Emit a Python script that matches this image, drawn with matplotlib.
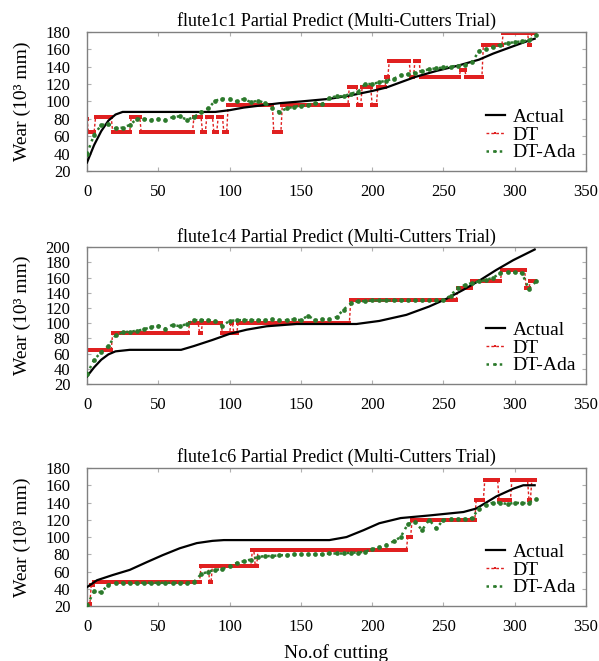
import numpy as np
import matplotlib
matplotlib.use('Agg')
import matplotlib.pyplot as plt

plt.rcParams['font.family'] = ['Liberation Serif', 'DejaVu Serif']

titles = ['flute1c1 Partial Predict (Multi-Cutters Trial)',
          'flute1c4 Partial Predict (Multi-Cutters Trial)',
          'flute1c6 Partial Predict (Multi-Cutters Trial)']
ylims = [(20, 180), (20, 200), (20, 180)]
n_cut = 315

# actual wear (knots)
act1_x = [0, 5, 10, 15, 20, 25, 30, 60, 90, 100, 110, 120, 135, 150, 170, 185, 200, 210, 220, 230, 245, 260, 275, 285, 295, 305, 314]
act1_y = [30, 50, 66, 78, 85, 88, 88, 88, 88, 90, 93, 95, 98, 100, 103, 107, 112, 116, 122, 128, 135, 141, 148, 155, 161, 167, 172]
act2_x = [0, 5, 10, 15, 20, 30, 66, 75, 88, 100, 112, 126, 147, 189, 205, 224, 240, 252, 264, 276, 287, 299, 314]
act2_y = [30, 42, 52, 59, 63, 65, 65, 70, 78, 86, 91.5, 96, 99, 99, 103, 111, 122, 132, 144, 157, 170, 183, 197]
act3_x = [0, 7, 18, 30, 42, 53, 65, 77, 88, 96, 170, 182, 194, 205, 220, 240, 264, 273, 287, 299, 306, 314]
act3_y = [42, 50, 56, 62, 71, 79, 87, 93, 95.6, 96.5, 96.5, 100, 108, 116, 122, 125, 129, 133, 147, 156, 160, 160]

# DT prediction: (value, number of cuts) runs
dt1_runs = [(80, 1), (65, 5), (82, 12), (65, 13), (82, 7), (65, 37), (82, 6), (65, 3), (82, 5), (65, 3),
            (82, 4), (65, 3), (96, 32), (65, 6), (96, 47), (117, 6), (96, 3), (117, 7), (96, 4), (117, 6),
            (128, 2), (146, 15), (128, 3), (146, 4), (128, 28), (136, 4), (128, 12), (165, 14), (179, 18),
            (165, 2), (179, 3)]
dt2_runs = [(65, 18), (87, 54), (100, 7), (87, 2), (100, 14), (87, 6), (100, 2), (87, 3), (100, 79),
            (130, 75), (146, 10), (156, 21), (170, 17), (146, 3), (156, 4)]
dt3_runs = [(22, 3), (45, 2), (48, 75), (67, 6), (48, 2), (67, 28), (85, 2), (67, 2), (85, 105),
            (100, 3), (120, 45), (143, 6), (166, 10), (143, 9), (166, 12), (143, 2), (166, 3)]

# DT-Ada prediction, every 5 cuts
ada_x = list(range(0, 316, 5))
ada1 = [40, 62, 73, 74, 69, 70, 73, 80, 80, 79, 80, 79, 82, 83, 79, 82, 88, 92, 101, 103,
        103, 100, 103, 99, 101, 98, 92, 88, 92, 94, 95, 96, 98, 97, 104, 106, 106, 109, 111, 120,
        120, 122, 124, 126, 130, 131, 133, 135, 137, 138, 139, 140, 141, 142, 145, 158, 160, 163, 165, 167,
        168, 169, 170, 176]
ada2 = [33, 52, 62, 70, 84, 88, 89, 90, 92, 95, 97, 93, 98, 96, 99, 104, 104, 104, 103, 97,
        103, 104, 104, 104, 104, 104, 105, 104, 104, 105, 104, 110, 104, 105, 105, 108, 118, 126, 129, 129,
        130, 130, 130, 130, 130, 130, 130, 130, 130, 130, 131, 136, 147, 150, 153, 155, 157, 160, 166, 167,
        167, 166, 145, 155]
ada3 = [21, 37, 36, 45, 47, 47, 47, 47, 47, 47, 47, 47, 47, 47, 47, 48, 57, 60, 62, 63,
        66, 70, 72, 74, 77, 78, 78, 79, 79, 80, 80, 80, 80, 80, 81, 81, 81, 82, 82, 83,
        86, 88, 91, 95, 100, 115, 118, 108, 120, 110, 120, 121, 121, 121, 122, 133, 137, 140, 140, 138,
        140, 139, 140, 144]

actuals = [(act1_x, act1_y), (act2_x, act2_y), (act3_x, act3_y)]
dts = [dt1_runs, dt2_runs, dt3_runs]
adas = [ada1, ada2, ada3]

fig = plt.figure(figsize=(5.99, 6.61), dpi=100)
boxes = [(0.741, 0.952), (0.419, 0.626), (0.083, 0.292)]
left, right = 87 / 599, 586 / 599

for i in range(3):
    bot, top = boxes[i]
    ax = fig.add_axes([left, bot, right - left, top - bot])
    ax_x, ax_y = actuals[i]
    ax.plot(ax_x, ax_y, color='black', lw=1.6, label='Actual', zorder=3)
    vals = [v for v, k in dts[i]]
    lens = [k for v, k in dts[i]]
    dt = np.repeat(vals, lens)
    ax.plot(np.arange(n_cut), dt, color='#e02020', ls=(0, (2, 1.5)), lw=1.0,
            marker='s', ms=2.6, mew=0, label='DT', zorder=2)
    ax.plot(ada_x, adas[i], color='#2c7a2c', ls=':', lw=1.8,
            marker='o', ms=3.4, mew=0, label='DT-Ada', zorder=4)

    ax.set_xlim(0, 350)
    ax.set_ylim(*ylims[i])
    ax.set_xticks(range(0, 351, 50))
    ax.set_yticks(range(ylims[i][0], ylims[i][1] + 1, 20))
    ax.tick_params(direction='in', length=3, color='#b0b0b0', labelsize=12,
                   top=True, right=True)
    ax.tick_params(axis='y', pad=12)
    ax.tick_params(axis='x', pad=9)
    for s in ax.spines.values():
        s.set_color('#808080')
        s.set_linewidth(1.0)
    ax.set_title(titles[i], fontsize=13, pad=4)
    ax.set_ylabel('Wear (10³ mm)', fontsize=14)
    ax.yaxis.set_label_coords(-0.112, 0.5)
    ax.legend(loc='lower right', frameon=False, fontsize=14, handlelength=1.0,
              handletextpad=0.4, labelspacing=0.0, borderaxespad=0.1, markerscale=0.6)
    if i == 2:
        ax.set_xlabel('No.of cutting', fontsize=14, labelpad=7)

fig.savefig('out.png', dpi=100)
